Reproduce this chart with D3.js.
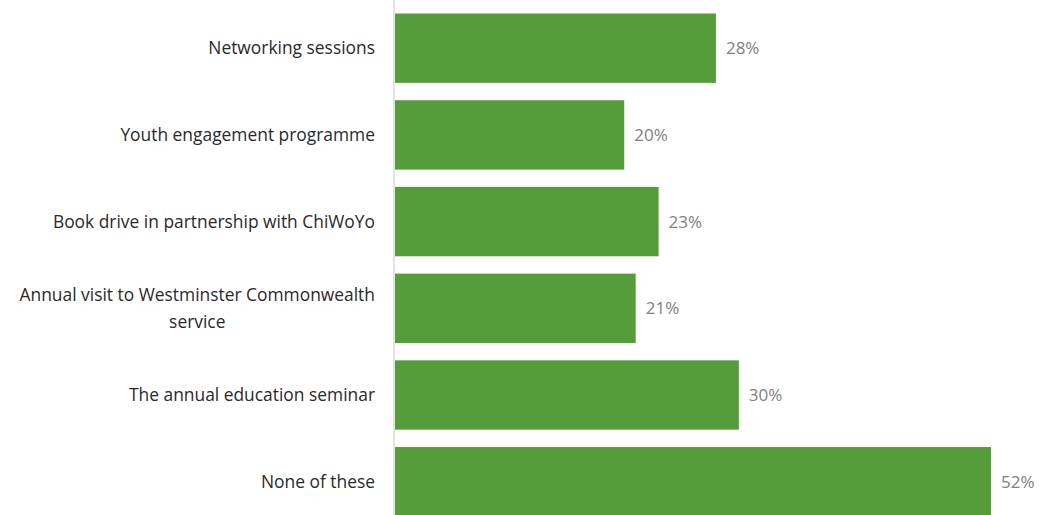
<!DOCTYPE html>
<html>
<head>
<meta charset="utf-8">
<script src="https://cdn.jsdelivr.net/npm/d3@7"></script>
<style>
  html, body { margin: 0; padding: 0; background: #fff; }
  svg { display: block; }
</style>
</head>
<body>
<svg id="chart" width="1039" height="515"></svg>
<script>
const categories = [
  "Networking sessions",
  "Youth engagement programme",
  "Book drive in partnership with ChiWoYo",
  "Annual visit to Westminster Commonwealth service",
  "The annual education seminar",
  "None of these"
];
const values = [28, 20, 23, 21, 30, 52];
const valueLabels = ["28%", "20%", "23%", "21%", "30%", "52%"];
const wrapWidth = 375;

const svg = d3.select("#chart");
const axisX = 394;

const x = d3.scaleLinear()
  .domain([0, d3.max(values)])
  .range([axisX + 1, 991]);

const y = d3.scaleBand()
  .domain(categories)
  .range([13.5, 516.4])
  .paddingInner(0.2)
  .paddingOuter(0);

// bars
svg.append("g").selectAll("rect")
  .data(values)
  .join("rect")
  .attr("x", x(0))
  .attr("y", (d, i) => y(categories[i]))
  .attr("width", d => x(d) - x(0))
  .attr("height", y.bandwidth())
  .attr("fill", "#559d3b");

// axis line
svg.append("line")
  .attr("x1", axisX).attr("x2", axisX)
  .attr("y1", 0).attr("y2", 515)
  .attr("stroke", "#d0d0d0")
  .attr("stroke-width", 1.2);

// value labels
svg.append("g").selectAll("text")
  .data(values)
  .join("text")
  .attr("x", d => x(d) + 10)
  .attr("y", (d, i) => y(categories[i]) + y.bandwidth() / 2)
  .attr("dy", "0.35em")
  .attr("font-family", "'Open Sans', sans-serif")
  .attr("font-size", 17)
  .attr("fill", "#808080")
  .text((d, i) => valueLabels[i]);

// category labels (wrapped)
const labelG = svg.append("g")
  .attr("font-family", "'Open Sans', sans-serif")
  .attr("font-size", 17.4)
  .attr("fill", "#2a2a2a")
  .attr("text-anchor", "middle");

categories.forEach((c, i) => {
  const t = labelG.append("text");
  const words = c.split(" ");
  const lines = [];
  let cur = [];
  const tmp = labelG.append("text").attr("visibility", "hidden");
  words.forEach(w => {
    const test = cur.concat([w]).join(" ");
    tmp.text(test);
    if (tmp.node().getComputedTextLength() > wrapWidth && cur.length) {
      lines.push(cur.join(" "));
      cur = [w];
    } else cur.push(w);
  });
  lines.push(cur.join(" "));
  tmp.remove();
  const lh = 27;
  const cy = y(c) + y.bandwidth() / 2;
  const startY = cy - (lines.length - 1) * lh / 2;
  lines.forEach((l, k) => {
    t.append("tspan").attr("x", 0).attr("y", startY + k * lh).attr("dy", "0.35em").text(l);
  });
  const bw = t.node().getBBox().width;
  t.attr("transform", `translate(${375 - bw / 2},0)`);
});
</script>
</body>
</html>
